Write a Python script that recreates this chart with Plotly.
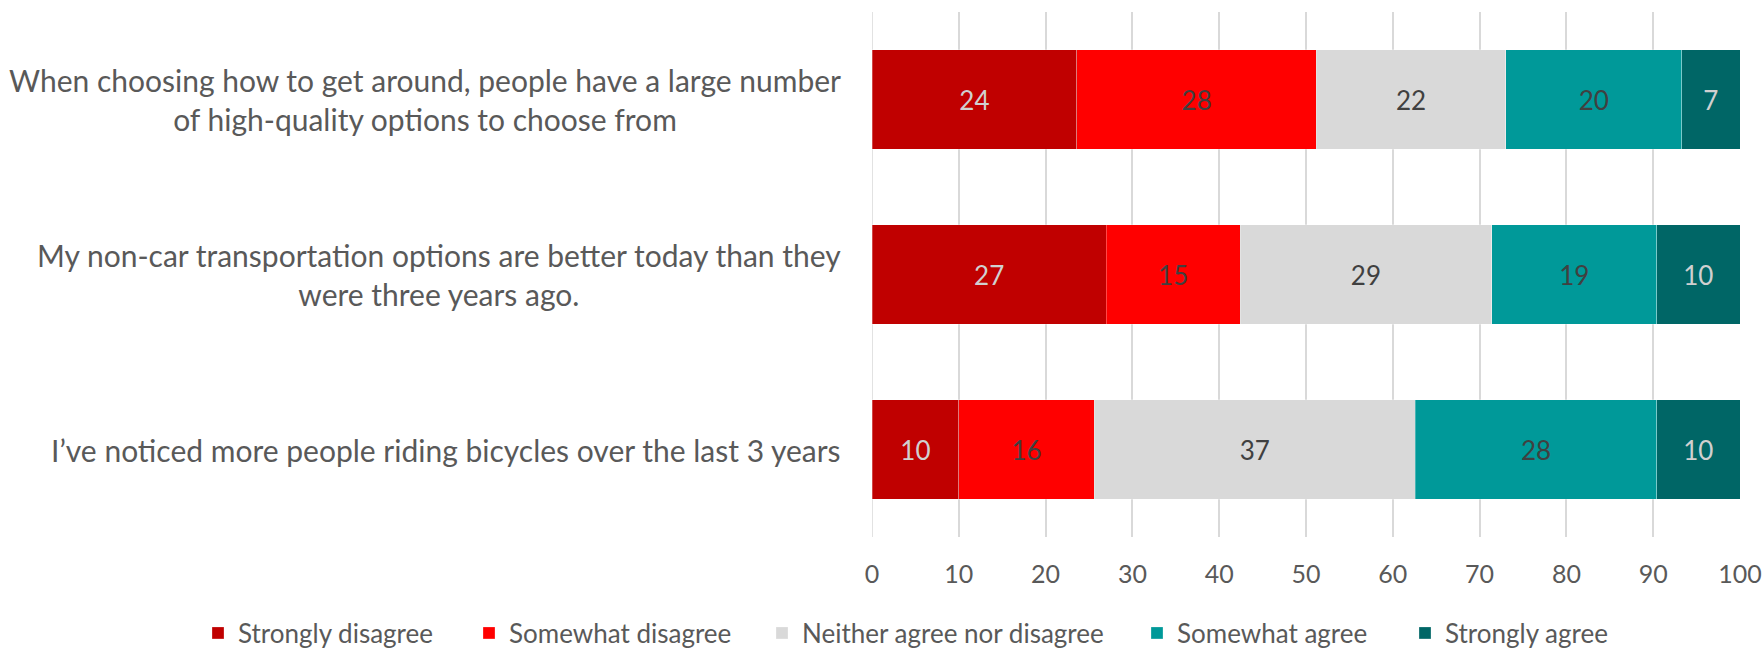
import plotly.graph_objects as go

# Survey statements (top to bottom), wrapped the way they are displayed
statements = [
    "When choosing how to get around, people have a large number<br>of high-quality options to choose from",
    "My non-car transportation options are better today than they<br>were three years ago.",
    "I’ve noticed more people riding bicycles over the last 3 years",
]

responses = [
    "Strongly disagree",
    "Somewhat disagree",
    "Neither agree nor disagree",
    "Somewhat agree",
    "Strongly agree",
]

# Percentage of respondents per response, one list per statement order above
strongly_disagree = [23.6, 27.0, 10.0]
somewhat_disagree = [27.6, 15.4, 15.6]
neither = [21.8, 29.0, 37.0]
somewhat_agree = [20.3, 19.0, 27.8]
strongly_agree = [6.7, 9.6, 9.6]

x_ticks = [0, 10, 20, 30, 40, 50, 60, 70, 80, 90, 100]

series = [strongly_disagree, somewhat_disagree, neither, somewhat_agree, strongly_agree]
colors = ["#C00000", "#FF0000", "#D9D9D9", "#009999", "#006666"]
label_colors = ["#D0D0D0", "#404040", "#404040", "#404040", "#D0D0D0"]

FONT = "Lato"
TEXT_GREY = "#595959"
W, H = 1762, 650

# one legend per response so each key sits at its own spot along the bottom row
legend_ids = ["legend", "legend2", "legend3", "legend4", "legend5"]
legend_left_px = [198, 469, 762, 1137, 1405]

fig = go.Figure()
for name, vals, col, lcol, lid in zip(responses, series, colors, label_colors, legend_ids):
    fig.add_trace(go.Bar(
        name=name,
        y=statements,
        x=vals,
        orientation="h",
        legend=lid,
        marker=dict(color=col, line=dict(color="rgba(255,255,255,0.35)", width=0.8)),
        texttemplate="%{x:.0f}",
        textposition="inside",
        insidetextanchor="middle",
        textfont=dict(family=FONT, size=26, color=lcol),
        constraintext="none",
    ))

# Statement labels, centred per line and right-aligned against the axis
for s in statements:
    fig.add_annotation(
        xref="paper", yref="y", x=0, y=s,
        xanchor="right", yanchor="middle", xshift=-29,
        text=s, showarrow=False, align="center",
        font=dict(family=FONT, size=30, color=TEXT_GREY),
    )

legend_style = dict(
    orientation="h",
    xref="container", xanchor="left",
    yref="container", y=1 - 633 / H, yanchor="middle",
    font=dict(family=FONT, size=26, color=TEXT_GREY),
    bgcolor="rgba(0,0,0,0)",
)
layout_legends = {}
for lid, px in zip(legend_ids, legend_left_px):
    layout_legends[lid] = dict(legend_style, x=px / W)

fig.update_layout(
    width=W,
    height=H,
    barmode="stack",
    bargap=0.429,
    plot_bgcolor="white",
    paper_bgcolor="white",
    margin=dict(l=872, r=22, t=12, b=113, autoexpand=False),
    showlegend=True,
    **layout_legends,
)

fig.update_xaxes(
    range=[0, 100],
    tickvals=x_ticks,
    showgrid=True,
    gridcolor="#D9D9D9",
    gridwidth=1.5,
    zeroline=False,
    showline=False,
    tickfont=dict(family=FONT, size=25, color=TEXT_GREY),
    ticklabelstandoff=20,
    ticklabeloverflow="allow",
)

fig.update_yaxes(
    categoryorder="array",
    categoryarray=statements,
    autorange="reversed",
    showticklabels=False,
    showgrid=False,
    zeroline=False,
)

# Axis baseline at x = 0
fig.add_shape(type="line", xref="x", yref="paper", x0=0, x1=0, y0=0, y1=1,
              line=dict(color="#D9D9D9", width=1.5), layer="below")

fig.write_html("out.html")
